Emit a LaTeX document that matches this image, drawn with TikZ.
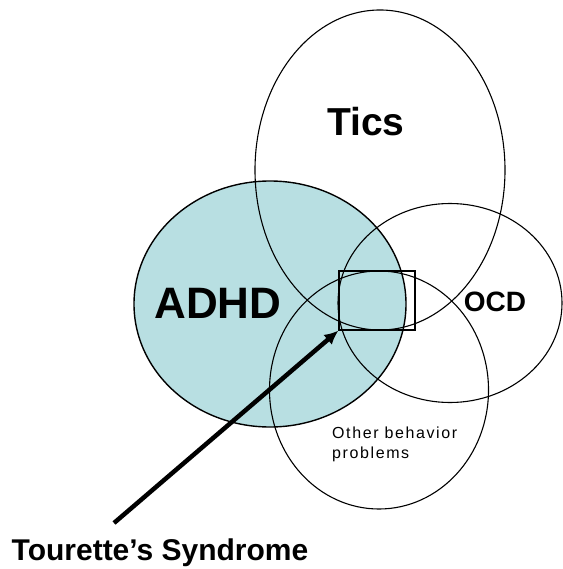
\documentclass[tikz,border=0pt]{standalone}
\usepackage{fontspec}
\setmainfont{Liberation Sans}
\newfontfamily\spacedfont[LetterSpace=10]{Liberation Sans}
\usetikzlibrary{shapes.geometric,arrows.meta}
\definecolor{adhdfill}{RGB}{184,223,226}
\tikzset{
  venn/.style={ellipse, draw=black, line width=1.1pt, inner sep=0pt},
  lbl/.style={font=\bfseries, inner sep=0pt, text=black},
}
\begin{document}
\begin{tikzpicture}[x=1pt,y=-1pt]
\useasboundingbox[fill=white] (0,0) rectangle (562,569);
\node[venn, line width=1.4pt, fill=adhdfill, minimum width=272pt, minimum height=246pt] (adhd) at (270,304) {};
\node[venn, minimum width=250pt, minimum height=320pt] (tics) at (380,170) {};
\node[venn, minimum width=224pt, minimum height=199pt] (ocd) at (450,303) {};
\node[venn, minimum width=219pt, minimum height=238pt] (other) at (379,390) {};
\node[draw=black, line width=1.2pt, minimum width=76pt, minimum height=59pt, inner sep=0pt] (box) at (377,300.5) {};
\node[lbl, font=\bfseries\fontsize{39}{39}\selectfont] (ticslbl) at (366,122) {Tics};
\node[lbl, font=\bfseries\fontsize{44}{44}\selectfont] (adhdlbl) at (218,303) {ADHD};
\node[lbl, font=\bfseries\fontsize{28}{28}\selectfont] (ocdlbl) at (495,302) {OCD};
\node[inner sep=0pt, anchor=north west, align=left, font=\spacedfont\fontsize{16}{20}\selectfont] (otherlbl) at (332,427) {Other behavior\\problems};
\node[lbl, font=\bfseries\fontsize{30}{30}\selectfont] (ts) at (160,553) {Tourette’s Syndrome};
\coordinate (tail) at (114,523);
\draw[line width=4.5pt, -{Latex[length=14pt,width=13pt]}] (tail) -- (box.south west);
\end{tikzpicture}
\end{document}
